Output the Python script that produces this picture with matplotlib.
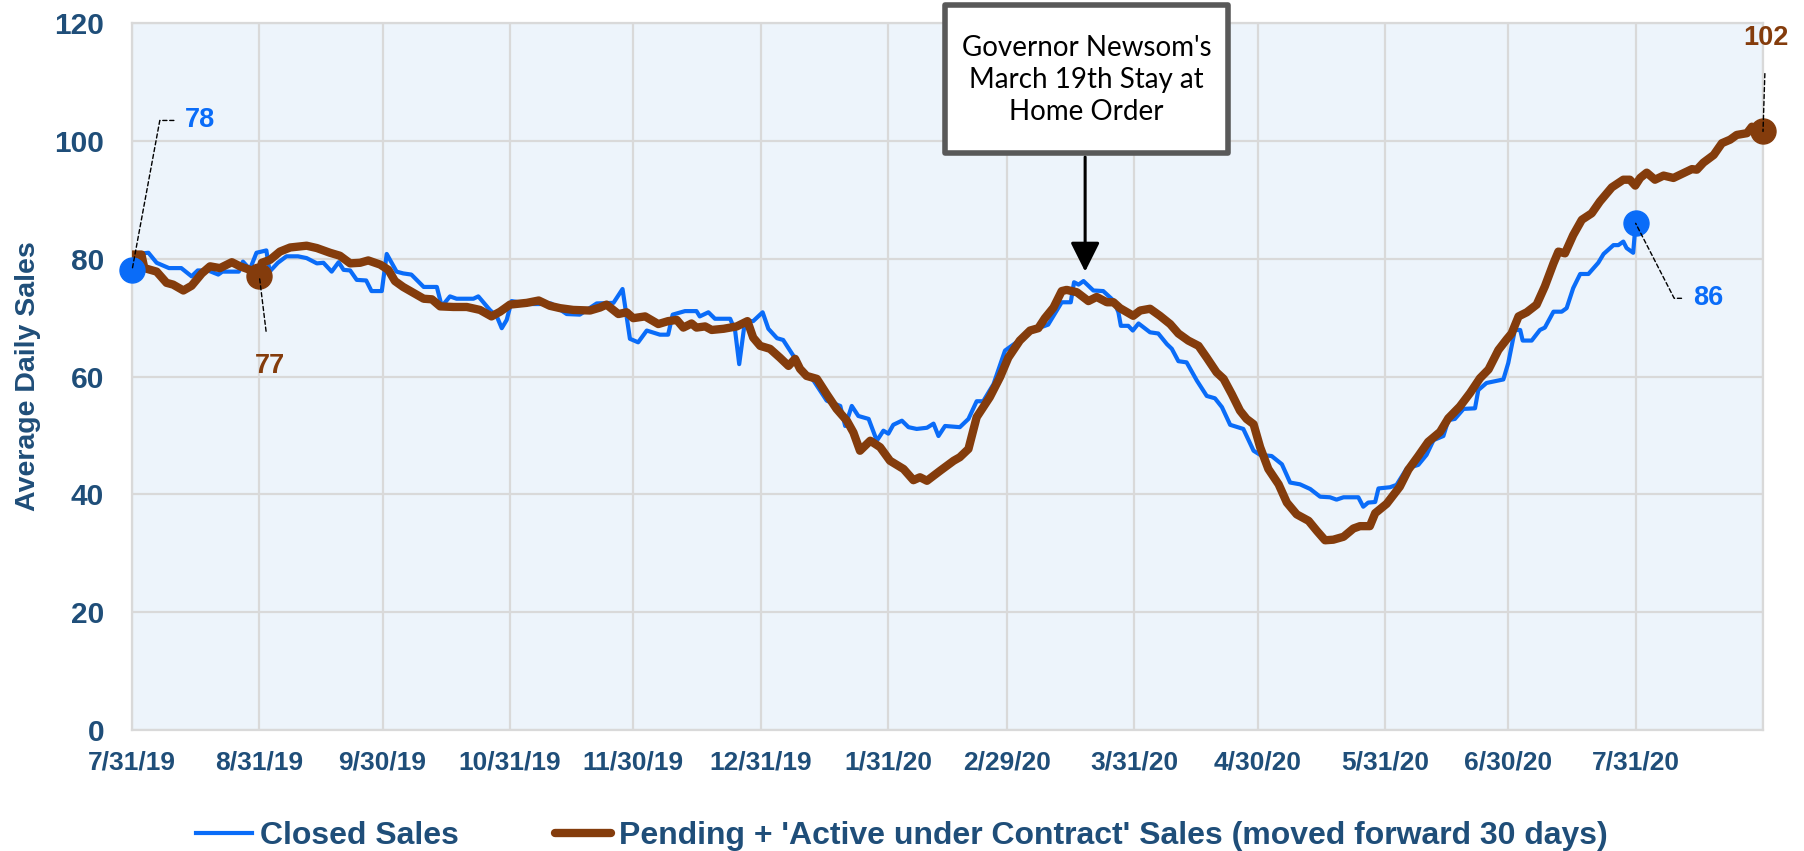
import matplotlib
matplotlib.use("Agg")
import matplotlib.pyplot as plt
import pandas as pd
from matplotlib.patches import FancyBboxPatch

# ---------------- data ----------------
START = "2019-07-31"

closed_days = [0, 1, 4, 6, 9, 12, 14.5, 16, 18.5, 21, 22, 26, 27, 28.7, 30.3, 32.7, 33.5, 35.5,
               37.6, 40.4, 42.5, 45, 46.6, 48.6, 50.3, 51.5, 53.1, 54.7, 57, 58.3, 60.8, 62, 64.4,
               66, 68, 71, 74.2, 75.4, 77.4, 79, 83.1, 84.3, 87.1, 88.8, 90, 91.2, 92.4, 96.8,
               99.3, 102, 105.8, 109, 113.1, 117.2, 119.4, 121.2, 123.2, 125.3, 128.5, 130.5,
               131.6, 134.6, 137.4, 138.2, 140.3, 141.9, 145.6, 146.8, 147.8, 149.2, 151.2,
               153.5, 154.9, 157, 158.5, 161, 162.6, 165.9, 169.1, 172.4, 173.6, 175.2, 176.8,
               179.3, 181.3, 182.9, 184.1, 185.3, 187.4, 189, 191, 193.5, 195.1, 196.3, 197.9,
               201.5, 203.6, 205.6, 207.2, 209.7, 212.5, 215.3, 218.6, 221, 223, 224.3, 226.3,
               228.5, 229.3, 230.4, 231.6, 234, 236.4, 238.9, 240.1, 240.7, 242.5, 243.6, 245,
               247.8, 249.8, 251.9, 253.1, 254.7, 256.7, 259.2, 261.6, 263.6, 265.3, 267.3,
               270.5, 273, 274.6, 277.4, 279.9, 281.9, 284.3, 286.8, 289.2, 291.6, 293.2, 294.9,
               298.5, 299.7, 300.9, 302.6, 303.4, 306.2, 307.8, 310.3, 313.1, 315.1, 316.8,
               319.2, 320.4, 322, 324.1, 326.9, 327.7, 329.7, 333.8, 335, 336.6, 337.9, 338.5,
               340.7, 342.7, 343.9, 346, 348, 349.2, 350.8, 352.5, 354.5, 356.9, 358.2, 360.6,
               361.8, 363, 363.8, 365.4, 366]
closed_vals = [78, 80.8, 81, 79.3, 78.4, 78.4, 77, 78, 78, 77.3, 77.8, 77.8, 79.5, 78.2, 81, 81.4,
               77.8, 79.3, 80.4, 80.4, 80.1, 79.2, 79.3, 77.8, 79.4, 78.1, 78, 76.4, 76.3, 74.5,
               74.5, 80.8, 77.8, 77.5, 77.3, 75.2, 75.2, 71.9, 73.6, 73.2, 73.2, 73.6, 71.3, 70.2,
               68.2, 69.6, 72.8, 72.3, 72.3, 72.4, 70.6, 70.5, 72.4, 72.5, 74.85, 66.4, 65.8,
               67.8, 67.1, 67.1, 70.5, 71.1, 71.1, 70.2, 70.9, 69.8, 69.8, 67.8, 62.1, 69.4, 69.4,
               70.9, 68.1, 66.5, 66.2, 63.5, 61.6, 59.3, 55.9, 55, 51.6, 55, 53.3, 52.8, 49.1,
               50.8, 50.3, 51.8, 52.5, 51.4, 51.1, 51.3, 52, 49.9, 51.6, 51.4, 52.8, 55.8, 55.8,
               58.7, 64.4, 65.8, 67.9, 68.3, 68.8, 70.3, 72.6, 72.6, 76, 75.6, 76.2, 74.6, 74.5,
               72.9, 70.9, 68.6, 68.6, 67.8, 69, 67.5, 67.3, 65.5, 64.7, 62.6, 62.4, 59.3, 56.7,
               56.3, 54.8, 51.8, 51.1, 47.4, 46.7, 46.5, 45.1, 42, 41.7, 40.9, 39.6, 39.5, 39.1,
               39.5, 39.5, 37.9, 38.6, 38.7, 41, 41.2, 41.6, 44.4, 45, 46.7, 49.2, 49.9, 52.6,
               52.8, 54.5, 54.6, 57.7, 58.9, 59.5, 62.3, 67.9, 67.9, 66.1, 66.1, 67.9, 68.3, 71,
               71, 71.6, 75, 77.4, 77.4, 79.3, 80.8, 82.3, 82.3, 82.9, 81.8, 81, 86]

pending_days = [0, 2.3, 3, 6, 8.4, 10, 12.5, 14.5, 17, 19, 21.4, 24.3, 26.3, 28.7, 31, 31.6, 33.6,
                36, 38.5, 42.5, 45, 48.2, 50.6, 53.1, 55.5, 57.5, 60.4, 62.4, 64, 66, 68.5, 71,
                73, 75, 78.2, 81.5, 84.7, 87.5, 89.6, 92, 96.1, 99, 101.7, 104.2, 107.4, 111.5,
                113.9, 115.5, 118.4, 120.4, 122, 124.9, 128.1, 130.5, 132.6, 134.2, 136.2, 137.4,
                139.5, 141.1, 144, 147.2, 149.8, 151.2, 152.9, 155.3, 157.7, 159.8, 161.4, 162.6,
                164.2, 166.7, 169.1, 171.5, 174, 175.6, 177.2, 179.7, 182.1, 184.5, 187.8, 190.2,
                191.8, 193.5, 196.7, 200, 201.5, 203.6, 205.6, 208.8, 211.3, 213.3, 216.1, 218.6,
                220.6, 222.2, 224.3, 226.3, 227.5, 230, 232.8, 234.8, 237.3, 238.9, 240.5, 243.7,
                245.4, 247.8, 250.2, 252.7, 254.7, 257.1, 259.6, 261.6, 264, 265.7, 267.7, 269.7,
                271.3, 273, 274.6, 276.6, 279.1, 281.1, 283.5, 286.4, 288.4, 290.4, 292.4, 294.9,
                297.3, 298.9, 301.3, 302.6, 305.4, 308.6, 310.7, 313.1, 315.5, 318.4, 320.4,
                323.2, 325.7, 328.1, 330.2, 332.6, 334.6, 335.8, 337.5, 339.5, 341.9, 343.9, 346,
                347.2, 348.8, 350.8, 352.9, 355.3, 357.3, 360.2, 363, 364.6, 365.9, 367.1, 368.7,
                370.7, 372.8, 375.2, 377.6, 379.7, 380.9, 382.5, 385, 387, 389, 390.6, 393.1,
                394.3, 397]
pending_vals = [80.7, 80.7, 78.4, 77.8, 75.9, 75.6, 74.6, 75.4, 77.5, 78.7, 78.4, 79.4, 78.7, 78.1,
                77, 79.3, 79.8, 81.2, 81.9, 82.2, 81.8, 81, 80.5, 79.2, 79.3, 79.7, 79, 78.1,
                76.2, 75.2, 74.2, 73.2, 73.1, 71.9, 71.8, 71.8, 71.3, 70.2, 71, 72.2, 72.5, 72.9,
                72, 71.6, 71.3, 71.2, 71.7, 72.2, 70.6, 70.9, 69.9, 70.2, 68.9, 69.4, 69.6, 68.3,
                69, 68.3, 68.5, 67.9, 68.1, 68.5, 69.4, 66.6, 65.2, 64.7, 63.2, 61.8, 63, 61.3,
                60.1, 59.6, 57, 54.5, 52.5, 50.5, 47.4, 49.1, 48, 45.7, 44.3, 42.4, 42.9, 42.3,
                44, 45.7, 46.3, 47.7, 53.1, 56.5, 59.9, 63.2, 66.1, 67.8, 68.2, 69.9, 71.7, 74.5,
                74.7, 74.3, 72.8, 73.5, 72.6, 72.6, 71.6, 70.3, 71.2, 71.5, 70.3, 68.9, 67.3,
                66.1, 65.2, 63.2, 60.7, 59.6, 57, 54.2, 52.8, 51.9, 48, 44.3, 41.7, 38.6, 36.6,
                35.5, 33.8, 32.2, 32.3, 32.8, 34.2, 34.6, 34.6, 36.8, 38.4, 41.3, 44.2, 46.5, 48.9,
                50.6, 52.9, 54.9, 57.2, 59.7, 61.2, 64.5, 66.3, 67.3, 70.2, 70.9, 72.2, 75.3,
                79.2, 81.2, 80.9, 84, 86.6, 87.7, 89.7, 92.1, 93.4, 93.4, 92.4, 93.7, 94.6, 93.4,
                94.1, 93.7, 94.5, 95.2, 95.1, 96.3, 97.6, 99.6, 100.2, 101, 101.3, 102.4, 101.6]

closed_marker_days = [0, 366]
closed_marker_labels = ["78", "86"]
pending_marker_days = [31, 397]
pending_marker_labels = ["77", "102"]

x_tick_labels = ["7/31/19", "8/31/19", "9/30/19", "10/31/19", "11/30/19", "12/31/19", "1/31/20",
                 "2/29/20", "3/31/20", "4/30/20", "5/31/20", "6/30/20", "7/31/20"]
x_end = "8/31/20"
y_ticks = [0, 20, 40, 60, 80, 100, 120]
event_date = "3/19/20"
event_text = "Governor Newsom's\nMarch 19th Stay at\nHome Order"

# ---------------- style ----------------
TEXT = "#1F4E79"
BLUE = "#0A6CF8"
BROWN = "#843C0C"
GRID = "#D9D9D9"
BG = "#EDF4FB"
FONT = ["Liberation Sans", "DejaVu Sans"]

W, H = 1804, 851
fig = plt.figure(figsize=(W / 100, H / 100), dpi=100)
fig.patch.set_facecolor("white")
ax = fig.add_axes([132 / W, 1 - 730 / H, 1631 / W, 707 / H])
ax.set_facecolor(BG)

start = pd.Timestamp(START)
def to_day(s):
    return (pd.to_datetime(s, format="%m/%d/%y") - start).days

tick_pos = [to_day(s) for s in x_tick_labels]
ax.set_xlim(0, to_day(x_end))
ax.set_ylim(0, 120)
ax.set_xticks(tick_pos + [to_day(x_end)])
ax.set_xticklabels(x_tick_labels + [""])
ax.set_yticks(y_ticks)
ax.set_yticklabels([str(v) for v in y_ticks])
ax.grid(True, color=GRID, lw=1.6, zorder=0)
ax.set_axisbelow(True)
for s in ax.spines.values():
    s.set_color(GRID)
    s.set_linewidth(1.6)
ax.tick_params(axis="both", length=0, colors=TEXT)
ax.tick_params(axis="x", pad=15)
ax.tick_params(axis="y", pad=20)
for lab in ax.get_xticklabels():
    lab.set_fontfamily(FONT); lab.set_fontweight("bold"); lab.set_fontsize(19)
for lab in ax.get_yticklabels():
    lab.set_fontfamily(FONT); lab.set_fontweight("bold"); lab.set_fontsize(21.5)

ax.set_ylabel("Average Daily Sales", family=FONT, fontweight="bold", fontsize=20.5,
              color=TEXT, va="center")
ax.yaxis.set_label_coords(-0.064, 0.5)

l1, = ax.plot(closed_days, closed_vals, color=BLUE, lw=3.0, zorder=3,
              solid_joinstyle="round", label="Closed Sales")
l2, = ax.plot(pending_days, pending_vals, color=BROWN, lw=6.0, zorder=4,
              solid_joinstyle="round", solid_capstyle="round",
              label="Pending + 'Active under Contract' Sales (moved forward 30 days)")

# highlighted points
def val_at(days, vals, d):
    return vals[min(range(len(days)), key=lambda i: abs(days[i] - d))]

cm_vals = [val_at(closed_days, closed_vals, d) for d in closed_marker_days]
pm_vals = [val_at(pending_days, pending_vals, d) for d in pending_marker_days]
ax.plot(closed_marker_days, cm_vals, "o", color=BLUE, ms=18, zorder=5, clip_on=False)
ax.plot(pending_marker_days, pm_vals, "o", color=BROWN, ms=18, zorder=5, clip_on=False)

lead = dict(arrowstyle="-", color="black", lw=1.0, linestyle=(0, (3, 2)), shrinkB=0, shrinkA=6)
lbl = dict(family=FONT, fontweight="bold", fontsize=19.5, textcoords="offset pixels",
           annotation_clip=False, zorder=6)
# 78
ax.annotate(closed_marker_labels[0], xy=(closed_marker_days[0], cm_vals[0]), xytext=(53, 150),
            ha="left", va="center", color=BLUE,
            arrowprops=dict(lead, connectionstyle="angle,angleA=0,angleB=79.5,rad=0"), **lbl)
# 86
ax.annotate(closed_marker_labels[1], xy=(closed_marker_days[1], cm_vals[1]), xytext=(57, -75),
            ha="left", va="center", color=BLUE,
            arrowprops=dict(lead, connectionstyle="angle,angleA=0,angleB=-62.8,rad=0"), **lbl)
# 77
ax.annotate(pending_marker_labels[0], xy=(pending_marker_days[0], pm_vals[0]), xytext=(11, -90),
            ha="center", va="center", color=BROWN,
            arrowprops=dict(lead, shrinkA=14), **lbl)
# 102
ax.annotate(pending_marker_labels[1], xy=(pending_marker_days[1], pm_vals[1]), xytext=(3, 93),
            ha="center", va="center", color=BROWN,
            arrowprops=dict(lead, shrinkA=14), **lbl)

# event box + arrow
ev = to_day(event_date)
box = FancyBboxPatch((945 / W, 1 - 153 / H), 283 / W, 148 / H, boxstyle="square,pad=0",
                     transform=fig.transFigure, fc="white", ec="#595959", lw=4.0,
                     joinstyle="round", zorder=10)
fig.add_artist(box)
fig.text(1086.5 / W, 1 - 80 / H, event_text, ha="center", va="center", fontsize=20,
         family=["Lato", "DejaVu Sans"], color="black", linespacing=1.27, zorder=11)
ax.annotate("", xy=(ev, 77.8), xycoords="data",
            xytext=(ev, 1 - 157 / H), textcoords=("data", "figure fraction"),
            arrowprops=dict(arrowstyle="-|>,head_length=0.9,head_width=0.45", color="black",
                            lw=2.2, mutation_scale=20, shrinkA=0, shrinkB=0),
            annotation_clip=False, zorder=9)

leg = fig.legend(handles=[l1, l2], loc="center", bbox_to_anchor=(0.5, 1 - 836 / H), ncol=2,
                 frameon=False, handlelength=1.75, handletextpad=0.25, columnspacing=3.0,
                 prop=dict(family=FONT, weight="bold", size=23))
for t in leg.get_texts():
    t.set_color(TEXT)

fig.savefig("out.png", dpi=100)
